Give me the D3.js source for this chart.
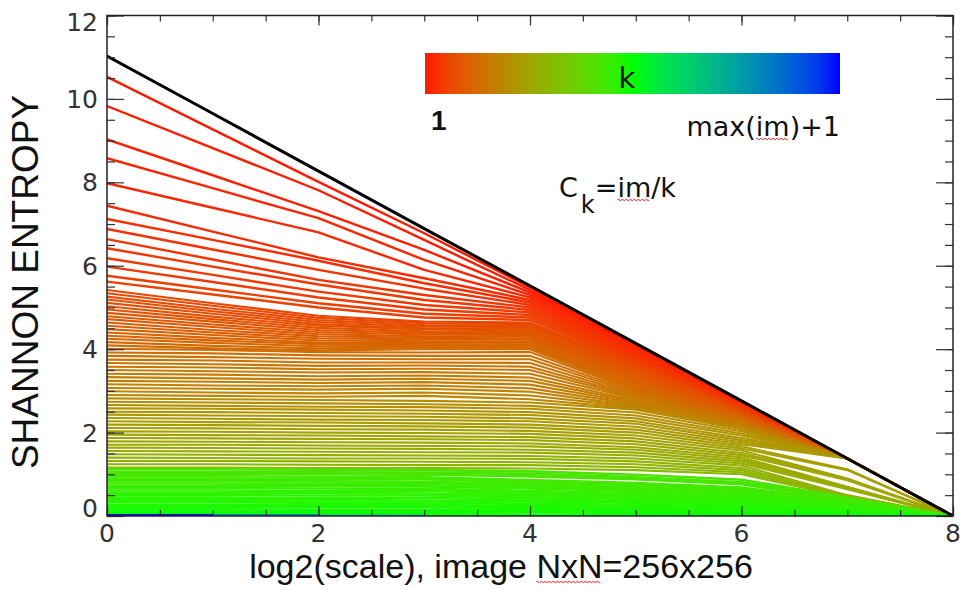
<!DOCTYPE html>
<html>
<head>
<meta charset="utf-8">
<script src="https://cdnjs.cloudflare.com/ajax/libs/d3/7.8.5/d3.min.js"></script>
<style>
    body { margin: 0; background: #fff; }
    text { font-family: "Liberation Sans", Arial, sans-serif; fill: #111; }
    .tick-label { font-family: "DejaVu Sans", sans-serif; font-size: 25px; fill: #333; }
    .legend { font-family: "DejaVu Sans", sans-serif; font-size: 27px; }
</style>
</head>
<body>
<svg id="chart" width="961" height="590"></svg>
<script>
// log2(scale) of the 9 coarse-graining steps (256 -> 1 px blocks)
var scales = [0, 1, 2, 3, 4, 5, 6, 7, 8];

// black upper bound
var bound = [11.03, 9.65, 8.27, 6.89, 5.52, 4.14, 2.76, 1.38, 0];

// k of each curve C_k = im/k, and its Shannon entropy at every scale
var redK = [1, 2, 3, 4, 5, 6, 7, 8, 9, 10, 11, 12, 13, 14];
var redH = [
    [10.53, 9.27, 8.01, 6.78, 5.48, 4.12, 2.75, 1.38, 0],
    [9.83, 8.82, 7.81, 6.62, 5.42, 4.10, 2.74, 1.38, 0],
    [9.03, 8.17, 7.31, 6.38, 5.36, 4.07, 2.72, 1.38, 0],
    [8.58, 7.86, 7.14, 6.14, 5.30, 4.04, 2.71, 1.38, 0],
    [7.98, 7.39, 6.80, 5.90, 5.24, 4.01, 2.69, 1.38, 0],
    [7.44, 6.82, 6.20, 5.70, 5.18, 3.97, 2.68, 1.38, 0],
    [7.12, 6.62, 6.12, 5.58, 5.12, 3.93, 2.66, 1.38, 0],
    [6.88, 6.39, 5.90, 5.45, 5.06, 3.89, 2.65, 1.38, 0],
    [6.64, 6.15, 5.66, 5.30, 5.00, 3.85, 2.63, 1.38, 0],
    [6.42, 5.98, 5.55, 5.18, 4.94, 3.81, 2.62, 1.38, 0],
    [6.18, 5.78, 5.38, 5.06, 4.88, 3.77, 2.60, 1.38, 0],
    [5.98, 5.61, 5.24, 4.95, 4.82, 3.74, 2.59, 1.38, 0],
    [5.76, 5.43, 5.10, 4.85, 4.76, 3.71, 2.57, 1.38, 0],
    [5.62, 5.31, 5.00, 4.76, 4.70, 3.68, 2.56, 1.38, 0]
];

var orangeK = [16, 17, 18, 19, 20, 21, 22, 23, 24, 25, 26, 27, 28, 29, 30, 31, 32, 33];
var orangeH = [
    [5.42, 5.10, 4.80, 4.66, 4.64, 3.64, 2.54, 1.38, 0],
    [5.34, 5.04, 4.75, 4.62, 4.60, 3.60, 2.53, 1.38, 0],
    [5.26, 4.97, 4.70, 4.58, 4.56, 3.57, 2.51, 1.38, 0],
    [5.19, 4.91, 4.65, 4.54, 4.53, 3.53, 2.50, 1.38, 0],
    [5.11, 4.85, 4.60, 4.50, 4.49, 3.49, 2.48, 1.38, 0],
    [5.03, 4.78, 4.56, 4.47, 4.45, 3.46, 2.47, 1.38, 0],
    [4.95, 4.72, 4.51, 4.43, 4.41, 3.42, 2.46, 1.38, 0],
    [4.87, 4.66, 4.46, 4.39, 4.38, 3.38, 2.44, 1.38, 0],
    [4.79, 4.59, 4.41, 4.35, 4.34, 3.35, 2.43, 1.38, 0],
    [4.72, 4.53, 4.36, 4.31, 4.30, 3.31, 2.41, 1.38, 0],
    [4.64, 4.46, 4.31, 4.27, 4.26, 3.27, 2.40, 1.38, 0],
    [4.56, 4.40, 4.26, 4.23, 4.23, 3.24, 2.39, 1.38, 0],
    [4.48, 4.34, 4.21, 4.19, 4.19, 3.20, 2.37, 1.38, 0],
    [4.40, 4.27, 4.16, 4.16, 4.15, 3.17, 2.36, 1.38, 0],
    [4.32, 4.21, 4.12, 4.12, 4.11, 3.13, 2.34, 1.38, 0],
    [4.25, 4.15, 4.07, 4.08, 4.08, 3.09, 2.33, 1.38, 0],
    [4.17, 4.08, 4.02, 4.04, 4.04, 3.06, 2.31, 1.38, 0],
    [4.09, 4.02, 3.97, 4.00, 4.00, 3.02, 2.30, 1.38, 0]
];

var brownK = [34, 35, 36, 37, 38, 39, 40, 41, 42, 43, 44, 45, 46, 47];
var brownH = [
    [4.01, 3.98, 3.93, 3.92, 3.93, 3.00, 2.29, 1.38, 0],
    [3.92, 3.90, 3.85, 3.84, 3.84, 2.97, 2.28, 1.38, 0],
    [3.84, 3.81, 3.77, 3.76, 3.76, 2.94, 2.26, 1.38, 0],
    [3.75, 3.73, 3.68, 3.68, 3.67, 2.90, 2.25, 1.38, 0],
    [3.67, 3.64, 3.60, 3.61, 3.58, 2.87, 2.24, 1.38, 0],
    [3.58, 3.56, 3.52, 3.53, 3.50, 2.84, 2.22, 1.38, 0],
    [3.50, 3.47, 3.44, 3.45, 3.41, 2.81, 2.21, 1.38, 0],
    [3.41, 3.39, 3.35, 3.37, 3.32, 2.77, 2.20, 1.38, 0],
    [3.33, 3.30, 3.27, 3.29, 3.24, 2.74, 2.18, 1.38, 0],
    [3.24, 3.22, 3.19, 3.21, 3.15, 2.71, 2.17, 1.38, 0],
    [3.16, 3.13, 3.11, 3.13, 3.06, 2.68, 2.16, 1.38, 0],
    [3.07, 3.05, 3.03, 3.05, 2.98, 2.64, 2.14, 1.38, 0],
    [2.99, 2.96, 2.94, 2.96, 2.89, 2.61, 2.13, 1.38, 0],
    [2.90, 2.88, 2.86, 2.88, 2.80, 2.58, 2.12, 1.38, 0]
];

var oliveK = [51, 52, 53, 55, 56, 57, 58, 60, 61, 62, 63, 65, 66, 67, 68, 70, 71, 72, 73, 75, 76, 77];
var oliveH = [
    [2.82, 2.80, 2.78, 2.76, 2.72, 2.55, 2.08, 1.38, 0],
    [2.74, 2.72, 2.70, 2.68, 2.64, 2.48, 2.03, 1.38, 0],
    [2.66, 2.64, 2.62, 2.61, 2.57, 2.41, 1.98, 1.38, 0],
    [2.58, 2.57, 2.55, 2.53, 2.49, 2.34, 1.93, 1.38, 0],
    [2.50, 2.49, 2.47, 2.45, 2.42, 2.27, 1.87, 1.38, 0],
    [2.43, 2.41, 2.39, 2.38, 2.34, 2.21, 1.82, 1.38, 0],
    [2.35, 2.33, 2.31, 2.30, 2.27, 2.14, 1.77, 1.38, 0],
    [2.27, 2.25, 2.24, 2.22, 2.19, 2.07, 1.72, 1.38, 0],
    [2.19, 2.18, 2.16, 2.15, 2.12, 2.00, 1.67, 1.12, 0],
    [2.11, 2.10, 2.08, 2.07, 2.04, 1.93, 1.62, 1.10, 0],
    [2.03, 2.02, 2.00, 1.99, 1.97, 1.86, 1.57, 0.90, 0],
    [1.95, 1.94, 1.93, 1.91, 1.89, 1.79, 1.51, 0.88, 0],
    [1.87, 1.86, 1.85, 1.84, 1.82, 1.72, 1.46, 0.86, 0],
    [1.79, 1.78, 1.77, 1.76, 1.74, 1.65, 1.41, 0.70, 0],
    [1.71, 1.71, 1.69, 1.68, 1.67, 1.59, 1.36, 0.68, 0],
    [1.64, 1.63, 1.62, 1.61, 1.59, 1.52, 1.31, 0.66, 0],
    [1.56, 1.55, 1.54, 1.53, 1.52, 1.45, 1.26, 0.64, 0],
    [1.48, 1.47, 1.46, 1.45, 1.44, 1.38, 1.21, 0.50, 0],
    [1.40, 1.39, 1.38, 1.38, 1.37, 1.31, 1.15, 0.48, 0],
    [1.32, 1.32, 1.31, 1.30, 1.29, 1.24, 1.10, 0.47, 0],
    [1.24, 1.24, 1.23, 1.22, 1.22, 1.17, 1.05, 0.46, 0],
    [1.16, 1.16, 1.15, 1.15, 1.14, 1.10, 1.00, 0.45, 0]
];

var greenK = [108, 109, 110, 111, 112, 113, 114, 115, 116, 117, 118, 119, 120, 121, 122, 123, 124, 125, 127, 128];
var greenH = [
    [1.12, 1.12, 1.11, 1.10, 1.07, 0.99, 0.87, 0.44, 0],
    [1.06, 1.06, 1.05, 1.04, 1.01, 0.93, 0.81, 0.42, 0],
    [1.01, 1.01, 1.00, 0.99, 0.95, 0.88, 0.76, 0.39, 0],
    [0.95, 0.95, 0.94, 0.93, 0.86, 0.79, 0.68, 0.37, 0],
    [0.89, 0.89, 0.88, 0.88, 0.81, 0.74, 0.64, 0.35, 0],
    [0.84, 0.84, 0.83, 0.82, 0.76, 0.69, 0.59, 0.33, 0],
    [0.78, 0.78, 0.77, 0.77, 0.71, 0.65, 0.55, 0.30, 0],
    [0.72, 0.72, 0.72, 0.71, 0.66, 0.60, 0.51, 0.28, 0],
    [0.67, 0.67, 0.66, 0.65, 0.60, 0.55, 0.47, 0.26, 0],
    [0.61, 0.61, 0.60, 0.60, 0.55, 0.50, 0.43, 0.24, 0],
    [0.55, 0.55, 0.55, 0.54, 0.50, 0.46, 0.39, 0.21, 0],
    [0.50, 0.50, 0.49, 0.49, 0.45, 0.41, 0.35, 0.19, 0],
    [0.44, 0.44, 0.43, 0.43, 0.40, 0.36, 0.31, 0.17, 0],
    [0.38, 0.38, 0.38, 0.37, 0.35, 0.32, 0.27, 0.15, 0],
    [0.33, 0.33, 0.32, 0.32, 0.29, 0.27, 0.23, 0.12, 0],
    [0.27, 0.27, 0.27, 0.26, 0.24, 0.22, 0.18, 0.10, 0],
    [0.21, 0.21, 0.21, 0.21, 0.19, 0.17, 0.14, 0.08, 0],
    [0.16, 0.16, 0.15, 0.15, 0.14, 0.12, 0.10, 0.06, 0],
    [0.10, 0.10, 0.10, 0.10, 0.09, 0.08, 0.06, 0.03, 0],
    [0.04, 0.04, 0.04, 0.04, 0.03, 0.03, 0.02, 0.01, 0]
];

// large k: entropy ~0, only visible on the left part of the bottom edge
var tailK = [159, 205, 256];
var tailH = [
    [0.015, 0.015, 0.015, 0.015, null, null, null, null, null],
    [0.015, 0.015, 0.015, null, null, null, null, null, null],
    [0.015, 0.015, null, null, null, null, null, null, null]
];

var xTicks = [0, 2, 4, 6, 8];
var yTicks = [0, 2, 4, 6, 8, 10, 12];
var kMax = 256;

var svg = d3.select("#chart");

var x = d3.scaleLinear().domain([0, 8]).range([107, 953]);
var y = d3.scaleLinear().domain([0, 12]).range([516, 15.5]);

var color = d3.scaleLinear()
    .domain([1, (kMax + 1) / 2, kMax])
    .range(["#ff1800", "#00ff00", "#0000ff"])
    .interpolate(d3.interpolateRgb.gamma(1.5));

var curves = [];
[[redK, redH], [orangeK, orangeH], [brownK, brownH], [oliveK, oliveH],
 [greenK, greenH], [tailK, tailH]].forEach(function(f) {
    f[0].forEach(function(k, i) { curves.push({ k: k, h: f[1][i] }); });
});
curves.sort(function(a, b) { return a.k - b.k; });

svg.append("clipPath").attr("id", "plot-clip")
    .append("rect")
    .attr("x", x(0)).attr("y", y(12))
    .attr("width", x(8) - x(0)).attr("height", y(0) - y(12));

var line = d3.line()
    .defined(function(d) { return d !== null; })
    .x(function(d, i) { return x(scales[i]); })
    .y(function(d) { return y(d); });

var plot = svg.append("g").attr("clip-path", "url(#plot-clip)");

plot.selectAll("path.curve")
    .data(curves)
    .enter().append("path")
    .attr("class", "curve")
    .attr("d", function(d) { return line(d.h); })
    .attr("fill", "none")
    .attr("stroke", function(d) { return color(d.k); })
    .attr("stroke-width", function(d) { return d.k <= 14 ? 2.4 : d.k < 100 ? 2.1 : 2.6; })
    .attr("stroke-linejoin", "round");

plot.append("path")
    .attr("d", line(bound))
    .attr("fill", "none")
    .attr("stroke", "#000")
    .attr("stroke-width", 3);

// ticks on all four sides, pointing inwards
function tickSet(axis, values, size, transform) {
    svg.append("g")
        .attr("transform", transform)
        .call(axis.tickValues(values).tickSize(size).tickFormat(""))
        .call(function(g) { g.select(".domain").remove(); })
        .selectAll("line").attr("stroke", "#333").attr("stroke-width", 1.2);
}
var xMinor = d3.range(0, 8.25, 0.5);
var yMinor = d3.range(0, 12.25, 0.5);
tickSet(d3.axisTop(x), xMinor, -6, "translate(0," + y(12) + ")");
tickSet(d3.axisTop(x), xTicks, -10, "translate(0," + y(12) + ")");
tickSet(d3.axisBottom(x), xMinor, -6, "translate(0," + y(0) + ")");
tickSet(d3.axisBottom(x), xTicks, -10, "translate(0," + y(0) + ")");
tickSet(d3.axisLeft(y), yMinor, -8, "translate(" + x(0) + ",0)");
tickSet(d3.axisLeft(y), yTicks, -17, "translate(" + x(0) + ",0)");
tickSet(d3.axisRight(y), yMinor, -8, "translate(" + x(8) + ",0)");
tickSet(d3.axisRight(y), yTicks, -17, "translate(" + x(8) + ",0)");

svg.append("rect")
    .attr("x", x(0)).attr("y", y(12))
    .attr("width", x(8) - x(0)).attr("height", y(0) - y(12))
    .attr("fill", "none").attr("stroke", "#222").attr("stroke-width", 1.5);

svg.selectAll("text.xl")
    .data(xTicks).enter().append("text")
    .attr("class", "tick-label")
    .attr("x", function(d) { return x(d); })
    .attr("y", 542)
    .attr("text-anchor", "middle")
    .text(function(d) { return d; });

svg.selectAll("text.yl")
    .data(yTicks).enter().append("text")
    .attr("class", "tick-label")
    .attr("x", 98)
    .attr("y", function(d) { return y(d) + (d === 12 ? 6 : d === 0 ? -8 : 0); })
    .attr("dy", "0.36em")
    .attr("text-anchor", "end")
    .text(function(d) { return d; });

svg.append("text")
    .attr("transform", "translate(38,282) rotate(-90)")
    .attr("text-anchor", "middle")
    .style("font-size", "37px")
    .text("SHANNON ENTROPY");

var xTitle = svg.append("text")
    .attr("x", 501).attr("y", 578)
    .attr("text-anchor", "middle")
    .style("font-size", "34px")
    .text("log2(scale), image NxN=256x256");

// colour bar legend
var grad = svg.append("defs").append("linearGradient").attr("id", "kbar");
d3.range(0, 1.001, 0.05).forEach(function(t) {
    grad.append("stop")
        .attr("offset", t)
        .attr("stop-color", color(1 + t * (kMax - 1)));
});
svg.append("rect")
    .attr("x", 425).attr("y", 53).attr("width", 415).attr("height", 41)
    .attr("fill", "url(#kbar)");
svg.append("text").attr("class", "legend")
    .attr("x", 627).attr("y", 88).attr("text-anchor", "middle")
    .style("font-size", "29px").text("k");
svg.append("text")
    .attr("x", 431).attr("y", 130)
    .style("font-size", "28px")
    .style("font-weight", "bold").text("1");
var maxLabel = svg.append("text").attr("class", "legend")
    .attr("x", 840).attr("y", 136).attr("text-anchor", "end")
    .text("max(im)+1");

var ck = svg.append("text").attr("class", "legend")
    .attr("x", 559).attr("y", 197);
ck.append("tspan").text("C");
ck.append("tspan").attr("dx", 3).attr("dy", 16).style("font-size", "24px").text("k");
ck.append("tspan").attr("dy", -16).text("=im/k");

// red spell-check squiggles under some words
function squiggle(textSel, from, to, off) {
    var node = textSel.node();
    var a = node.getExtentOfChar(from), b = node.getExtentOfChar(to);
    var x0 = a.x, x1 = b.x + b.width, yb = a.y + a.height - off;
    var p = d3.path();
    p.moveTo(x0, yb);
    for (var xx = x0; xx + 4 <= x1 + 0.5; xx += 4) {
        p.quadraticCurveTo(xx + 1, yb - 2.2, xx + 2, yb);
        p.quadraticCurveTo(xx + 3, yb + 2.2, xx + 4, yb);
    }
    svg.append("path").attr("d", p.toString())
        .attr("fill", "none").attr("stroke", "#e23030").attr("stroke-width", 1);
}
squiggle(xTitle, 19, 21, 3);
squiggle(maxLabel, 4, 5, 3);
squiggle(ck, 3, 4, 3);
</script>
</body>
</html>
